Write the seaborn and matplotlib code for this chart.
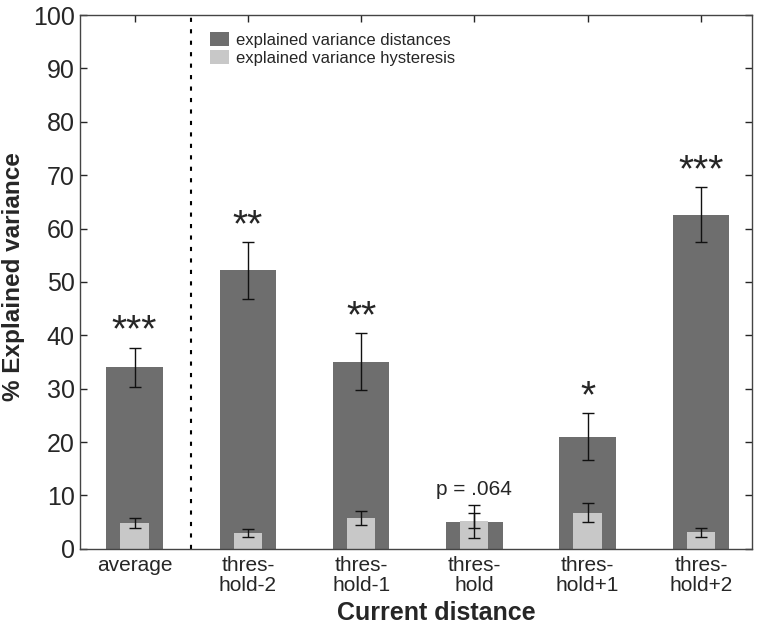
import numpy as np
import pandas as pd
import matplotlib
matplotlib.use('Agg')
import matplotlib.pyplot as plt
import seaborn as sns
from matplotlib.patches import Patch

# Categories and values
categories = ['average', 'thres-\nhold-2', 'thres-\nhold-1', 'thres-\nhold', 'thres-\nhold+1', 'thres-\nhold+2']
dist_vals = [34.0, 52.2, 35.1, 5.1, 21.0, 62.6]
dist_err = [3.7, 5.3, 5.3, 3.1, 4.4, 5.1]
hyst_vals = [4.9, 3.0, 5.8, 5.3, 6.8, 3.1]
hyst_err = [0.9, 0.8, 1.3, 1.4, 1.8, 0.8]
sig_labels = ['***', '**', '**', 'p = .064', '*', '***']

dark = '#6e6e6e'
light = '#c8c8c8'

sns.set_style('white')
plt.rcParams['font.family'] = ['Liberation Sans', 'DejaVu Sans']

df = pd.DataFrame({'cat': categories, 'dist': dist_vals, 'hyst': hyst_vals})

fig = plt.figure(figsize=(7.64, 6.28), dpi=100)
ax = fig.add_axes([0.105, 0.126, 0.879, 0.850])

# Wide dark bars and narrow light bars on the same positions
sns.barplot(data=df, x='cat', y='dist', color=dark, width=0.5, saturation=1,
            linewidth=0, edgecolor='none', ax=ax)
sns.barplot(data=df, x='cat', y='hyst', color=light, width=0.25, saturation=1,
            linewidth=0, edgecolor='none', ax=ax)

xpos = np.arange(len(categories))
ax.errorbar(xpos, dist_vals, yerr=dist_err, fmt='none', ecolor='#111111', elinewidth=1, capsize=4.5, capthick=1, zorder=5)
ax.errorbar(xpos, hyst_vals, yerr=hyst_err, fmt='none', ecolor='#111111', elinewidth=1, capsize=4.5, capthick=1, zorder=5)

# Significance markers above the error bars
for x, v, e, s in zip(xpos, dist_vals, dist_err, sig_labels):
    if s.startswith('p'):
        ax.text(x, v + e + 1.2, s, ha='center', va='bottom', fontsize=15)
    else:
        ax.text(x, v + e + 3.0, s, ha='center', va='center', fontsize=28, fontweight='medium')

# Dotted separator between the average and the individual distances
ax.axvline(0.5, color='black', linestyle=(0, (2, 3.5)), linewidth=1.5)

ax.set_xlim(-0.48, 5.45)
ax.set_ylim(0, 100)
ax.set_yticks(np.arange(0, 101, 10))
ax.set_xticks(xpos)
ax.set_xticklabels(categories, fontsize=15, linespacing=1.1)
ax.tick_params(axis='y', labelsize=18, direction='in', length=5, right=True, left=True, width=1, pad=4)
ax.tick_params(axis='x', direction='in', length=5, top=True, bottom=True, width=1, pad=5)

for sp in ax.spines.values():
    sp.set_visible(True)
    sp.set_color('#444444')
    sp.set_linewidth(1)

ax.set_xlabel('Current distance', fontsize=18, fontweight='bold')
ax.set_ylabel('% Explained variance', fontsize=17.5, fontweight='bold')
ax.xaxis.set_label_coords(0.53, -0.097)
ax.yaxis.set_label_coords(-0.082, 0.51)

handles = [Patch(facecolor=dark, edgecolor='none', label='explained variance distances'),
           Patch(facecolor=light, edgecolor='none', label='explained variance hysteresis')]
fig.legend(handles=handles, loc='upper left', bbox_to_anchor=(210 / 764, 1 - 32 / 628),
           frameon=False, fontsize=12, borderpad=0, borderaxespad=0,
           handlelength=1.15, handleheight=0.9, handletextpad=0.4, labelspacing=0.15)

fig.savefig('out.png', dpi=100)
